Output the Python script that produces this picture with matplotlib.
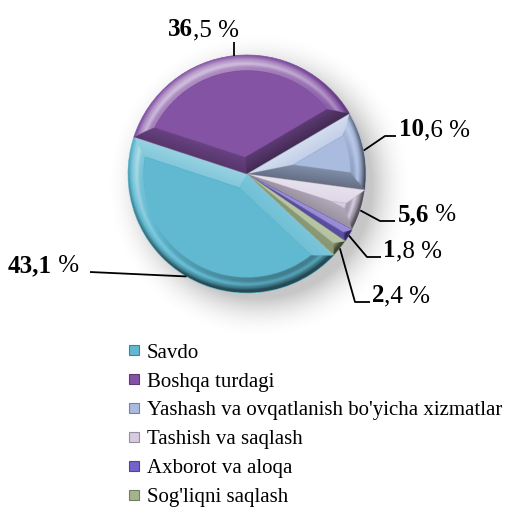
import numpy as np
import matplotlib.pyplot as plt
from matplotlib.patches import Circle
from matplotlib.lines import Line2D
from matplotlib.colors import to_rgb

plt.rcParams['font.family'] = ['Liberation Serif', 'DejaVu Serif']

# =============================================================================
# data
# =============================================================================
categories = ['Savdo', 'Boshqa turdagi', "Yashash va ovqatlanish bo'yicha xizmatlar",
              'Tashish va saqlash', 'Axborot va aloqa', "Sog'liqni saqlash"]
shares     = [43.1, 36.5, 10.6, 5.6, 1.8, 2.4]
label_bold = ['43,1', '36', '10', '5,6', '1', '2']
label_rest = [' %', ',5 %', ',6 %', ' %', ',8 %', ',4 %']
colors     = ['#60b9d1', '#8453a4', '#a9bbdf', '#d6cbe0', '#7363cb', '#a3b48a']

# =============================================================================
# figure / pixel helpers
# =============================================================================
W, H = 511, 514
R = 119.0
cx, cy = 247, 174

fig = plt.figure(figsize=(W / 100, H / 100), dpi=100)
ax = fig.add_axes([0, 0, 1, 1])

def px(x, y):
    return (x - cx) / R, (cy - y) / R

def mix(c, other, t):
    c = np.array(to_rgb(c)); o = np.array(other)
    return tuple(c * (1 - t) + o * t)

# soft shadow behind pie
gx = np.linspace(-1.8, 1.8, 300)
gX, gY = np.meshgrid(gx, gx)
d = np.hypot(gX - 0.10, gY + 0.10)
shadow = np.zeros((300, 300, 4))
shadow[..., :3] = 0.45
shadow[..., 3] = np.clip(1 - (d - 0.95) / 0.34, 0, 1) ** 2 * 0.40
ax.imshow(shadow, extent=(-1.8, 1.8, -1.8, 1.8), origin='lower', zorder=0, interpolation='bilinear')

wedges, _ = ax.pie(shares, colors=colors, startangle=-43, counterclock=False, radius=1,
                   wedgeprops=dict(linewidth=0.5))
for w, c in zip(wedges, colors):
    w.set_edgecolor(c)
    w.set_zorder(2)

# =============================================================================
# bevel shading overlay (computed from the wedge angles)
# =============================================================================
n = 700
g = np.linspace(-1, 1, n)
X, Y = np.meshgrid(g, g)
r = np.hypot(X, Y)
th = np.degrees(np.arctan2(Y, X))
light = np.array([-0.45, 0.89])
b = 0.13
s = np.zeros_like(r)
for w in wedges:
    t1, t2 = w.theta1, w.theta2
    rel = (th - t1) % 360
    inside = (rel <= (t2 - t1)) & (r <= 1)
    d1 = r * np.sin(np.radians(np.clip(rel, 0, 90)))
    d2 = r * np.sin(np.radians(np.clip((t2 - t1) - rel, 0, 90)))
    drim = 1 - r
    dist = np.stack([drim, d1, d2])
    k = np.argmin(dist, axis=0)
    dmin = np.min(dist, axis=0)
    n_rim = X * light[0] + Y * light[1]
    a1 = np.radians(t1 - 90); a2 = np.radians(t2 + 90)
    n1 = np.cos(a1) * light[0] + np.sin(a1) * light[1]
    n2 = np.cos(a2) * light[0] + np.sin(a2) * light[1]
    lam = np.where(k == 0, n_rim / np.maximum(r, 1e-6), np.where(k == 1, n1, n2))
    u = np.clip(dmin / b, 0, 1)
    val = 0.5 * lam * (1 - 0.4 * u)
    val = np.where(k == 0, val - 0.45 * np.clip(0.3 - u, 0, None) / 0.3 + 0.25 * np.exp(-((u - 0.55) / 0.15) ** 2), val)
    val = np.where(dmin < b, val, 0.0)
    s = np.where(inside, val, s)

over = np.zeros((n, n, 4))
over[..., :3] = np.where(s[..., None] > 0, 1.0, 0.0)
over[..., 3] = np.clip(np.abs(s), 0, 0.6)
im = ax.imshow(over, extent=(-1, 1, -1, 1), origin='lower', zorder=3, interpolation='bilinear')
im.set_clip_path(Circle((0, 0), 1, transform=ax.transData))

# =============================================================================
# labels with leader lines (pixel styling)
# =============================================================================
leader = {
    0: [(90, 272)],
    1: [(None, 42)],
    2: [(385, 136), (396, 136)],
    3: [(380, 221), (395, 221)],
    4: [(367, 257), (381, 257)],
    5: [(355, 302), (370, 302)],
}
text_pos = {0: (8, 272), 1: (168, 36), 2: (399, 136), 3: (398, 221),
            4: (383, 257), 5: (372, 302)}

for i, w in enumerate(wedges):
    mid = np.deg2rad((w.theta1 + w.theta2) / 2)
    ax_, ay_ = np.cos(mid), np.sin(mid)
    pts = [(ax_, ay_)]
    for (lx, ly) in leader[i]:
        if lx is None:
            pts.append((ax_, px(0, ly)[1]))
        else:
            pts.append(px(lx, ly))
    pts = np.array(pts)
    ax.plot(pts[:, 0], pts[:, 1], color='black', lw=1.3, zorder=5, solid_capstyle='butt')
    tx, ty = px(*text_pos[i])
    t1 = ax.text(tx, ty, label_bold[i], fontsize=18, fontweight='bold', va='baseline', ha='left', zorder=6)
    ax.annotate(label_rest[i], xy=(1, 0), xycoords=t1, va='bottom', ha='left', fontsize=18, zorder=6)

ax.set_xlim(-cx / R, (W - cx) / R)
ax.set_ylim(-(H - cy) / R, cy / R)
ax.set_aspect('auto')
ax.axis('off')

# =============================================================================
# legend
# =============================================================================
handles = [Line2D([], [], ls='none', marker='s', markersize=7.5, markerfacecolor=c,
                  markeredgecolor=mix(c, (0, 0, 0), 0.3), markeredgewidth=0.8) for c in colors]
fig.legend(handles, categories, loc='upper left', bbox_to_anchor=(127 / W, 1 - 343 / H),
           frameon=False, prop={'family': 'Liberation Serif', 'size': 15},
           handlelength=0.7, handletextpad=0.25,
           labelspacing=0.45, borderpad=0, borderaxespad=0)

fig.savefig('out.png', dpi=100)
